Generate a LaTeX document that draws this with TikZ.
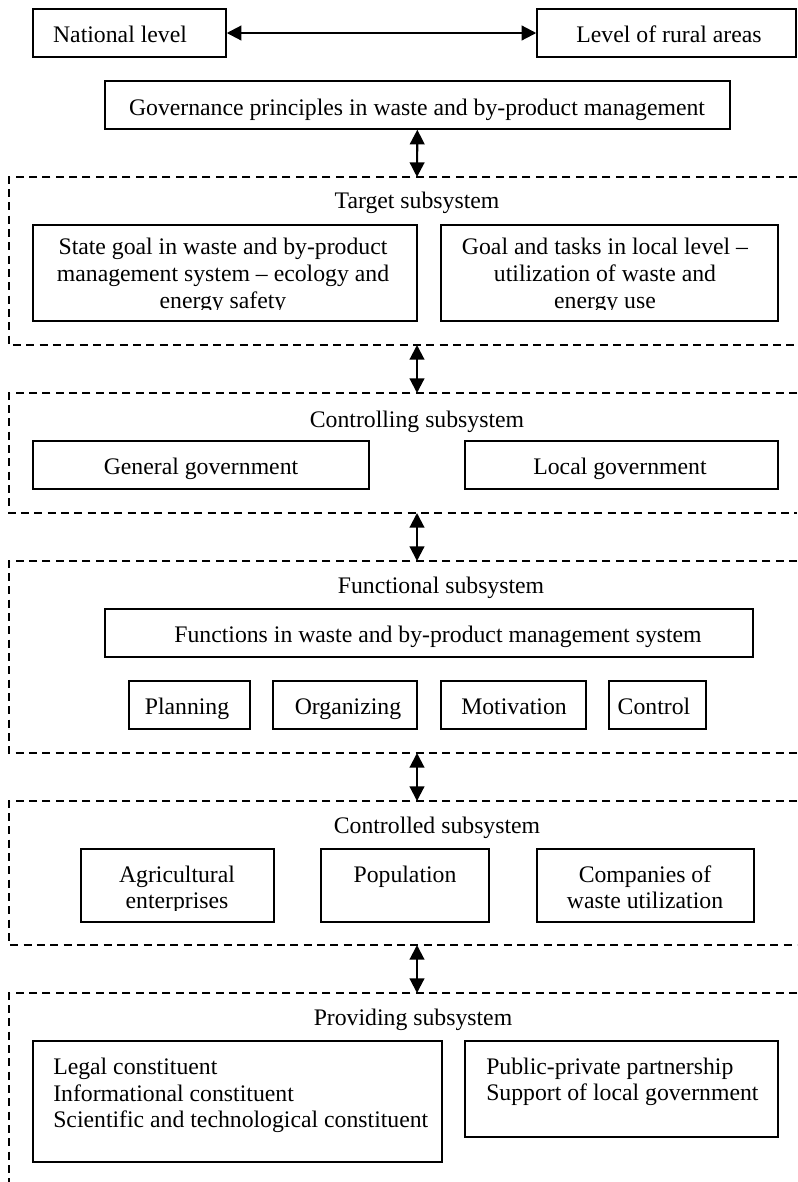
\documentclass[tikz,border=0pt]{standalone}
\usepackage{fontspec}
\setmainfont{Liberation Serif}
\usetikzlibrary{arrows.meta,fit}
\begin{document}
\begin{tikzpicture}[x=0.75pt,y=-0.75pt,
  box/.style={draw, line width=1.1pt, inner sep=0pt},
  txt/.style={anchor=base, inner sep=0pt, font=\fontsize{17.8}{20}\selectfont},
  frameline/.style={draw, line width=0.9pt, dash pattern=on 6pt off 4pt},
  dbl/.style={{Triangle[length=11pt,width=11pt]}-{Triangle[length=11pt,width=11pt]}, line width=1.6pt}]
\useasboundingbox (0,0) rectangle (797,1182);

% top level
\node[box, fit={(33,9) (226,57)}] (nat) {};
\node[txt] (natT) at (120,42) {National level};
\node[box, fit={(537,9) (796,57)}] (rur) {};
\node[txt] (rurT) at (669,42) {Level of rural areas};
\draw[dbl] (nat) -- (rur);

\node[box, fit={(105,81) (730,129)}] (gov) {};
\node[txt] (govT) at (417,115) {Governance principles in waste and by-product management};

% frames
\coordinate (f1t) at (417,177); \coordinate (f1b) at (417,345);
\coordinate (f2t) at (417,393); \coordinate (f2b) at (417,513);
\coordinate (f3t) at (417,561); \coordinate (f3b) at (417,753);
\coordinate (f4t) at (417,801); \coordinate (f4b) at (417,945);
\coordinate (f5t) at (417,993);

\draw[frameline] (797,177) -- (9,177) -- (9,345) -- (797,345);
\draw[frameline] (797,393) -- (9,393) -- (9,513) -- (797,513);
\draw[frameline] (797,561) -- (9,561) -- (9,753) -- (797,753);
\draw[frameline] (797,801) -- (9,801) -- (9,945) -- (797,945);
\draw[frameline] (797,993) -- (9,993) -- (9,1182);

\draw[dbl] (gov) -- (f1t);
\draw[dbl] (f1b) -- (f2t);
\draw[dbl] (f2b) -- (f3t);
\draw[dbl] (f3b) -- (f4t);
\draw[dbl] (f4b) -- (f5t);

% target subsystem
\node[txt] (tgtT) at (417,208) {Target subsystem};
\node[box, fit={(33,225) (417,321)}] (sg) {};
\begin{scope}
\clip (33,225) rectangle (417,309.5);
\node[txt, align=center] (sgT) at (223,308.3) {State goal in waste and by-product\\management system -- ecology and\\energy safety};
\end{scope}
\node[box, fit={(441,225) (778,321)}] (gl) {};
\begin{scope}
\clip (441,225) rectangle (778,309.5);
\node[txt, align=center] (glT) at (605,308.3) {Goal and tasks in local level --\\utilization of waste and\\energy use};
\end{scope}

% controlling subsystem
\node[txt] (ctlT) at (417,427) {Controlling subsystem};
\node[box, fit={(33,441) (369,489)}] (gg) {};
\node[txt] (ggT) at (201,474) {General government};
\node[box, fit={(465,441) (778,489)}] (lg) {};
\node[txt] (lgT) at (620,474) {Local government};

% functional subsystem
\node[txt] (funT) at (441,593) {Functional subsystem};
\node[box, fit={(105,609) (753,657)}] (fn) {};
\node[txt] (fnT) at (438,642) {Functions in waste and by-product management system};
\node[box, fit={(129,681) (250,729)}] (pl) {};
\node[txt] (plT) at (187,714) {Planning};
\node[box, fit={(273,681) (417,729)}] (org) {};
\node[txt] (orgT) at (348,714) {Organizing};
\node[box, fit={(441,681) (586,729)}] (mot) {};
\node[txt] (motT) at (514,714) {Motivation};
\node[box, fit={(609,681) (706,729)}] (con) {};
\node[txt] (conT) at (654,714) {Control};

% controlled subsystem
\node[txt] (cldT) at (437,833) {Controlled subsystem};
\node[box, fit={(81,849) (274,922)}] (agr) {};
\begin{scope}
\clip (81,849) rectangle (274,910);
\node[txt, align=center] (agrT) at (177,908.7) {Agricultural\\enterprises};
\end{scope}
\node[box, fit={(321,849) (489,922)}] (pop) {};
\node[txt] (popT) at (405,882) {Population};
\node[box, fit={(537,849) (754,922)}] (cmp) {};
\node[txt, align=center] (cmpT) at (645,908.7) {Companies of\\waste utilization};

% providing subsystem
\node[txt] (prvT) at (413,1025) {Providing subsystem};
\node[box, fit={(33,1041) (442,1162)}] (leg) {};
\node[txt, anchor=base west, align=left] (legT) at (53,1127.7) {Legal constituent\\Informational constituent\\Scientific and technological constituent};
\node[box, fit={(465,1041) (778,1137)}] (pub) {};
\node[txt, anchor=base west, align=left] (pubT) at (486,1100.7) {Public-private partnership\\Support of local government};
\end{tikzpicture}
\end{document}
